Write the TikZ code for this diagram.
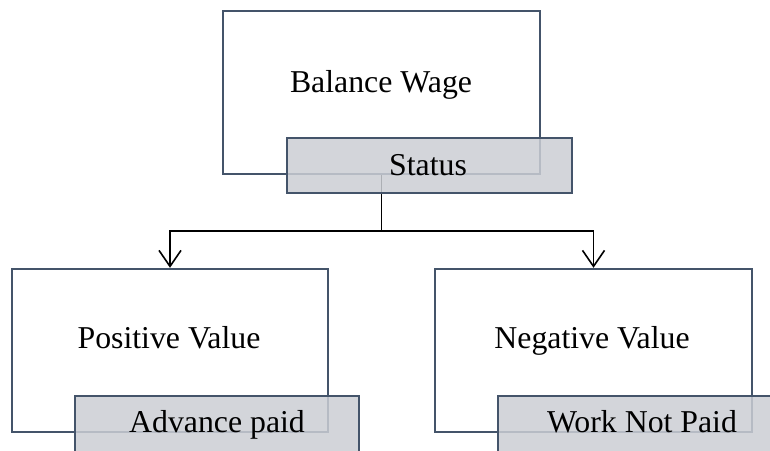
\documentclass[tikz,border=0pt]{standalone}
\usepackage{fontspec}
\setmainfont{Liberation Serif}
\usetikzlibrary{arrows.meta}
\definecolor{boxline}{HTML}{44546A}
\definecolor{tabfill}{HTML}{CBCED4}
\begin{document}
\begin{tikzpicture}[x=1pt,y=-1pt,
  mainbox/.style={draw=boxline, line width=2.4pt, rectangle, inner sep=0pt},
  tabbox/.style={draw=boxline, line width=2.4pt, fill=tabfill, fill opacity=0.85, text opacity=1, rectangle, inner sep=0pt},
  lbl/.style={font=\fontsize{31.8}{38}\selectfont, text=black, inner sep=0pt, anchor=base},
  link/.style={draw=black, line width=1.6pt},
  arr/.style={link, -{Straight Barb[length=16pt,width=22pt,line width=1.6pt]}}]
\clip (0,0) rectangle (770,450);
\useasboundingbox (0,0) rectangle (770,450);
% parent card
\node[mainbox, minimum width=317pt, minimum height=163pt] (top) at (381.5,92.5) {};
\node[lbl] (toptext) at (381,92) {Balance Wage};
% child cards
\node[mainbox, minimum width=316pt, minimum height=163pt] (left) at (170,350.5) {};
\node[lbl] (lefttext) at (169,348) {Positive Value};
\node[mainbox, minimum width=317pt, minimum height=163pt] (right) at (593.5,350.5) {};
\node[lbl] (righttext) at (592,348) {Negative Value};
% connectors
\coordinate (j) at (381.5,231);
\draw[link] (top.south) -- (j);
\draw[arr] (j) -| (left.north);
\draw[arr] (j) -| (right.north);
% tabs
\node[tabbox, minimum width=285pt, minimum height=55pt] (status) at (429.5,165.5) {};
\node[lbl] (statustext) at (428,175) {Status};
\node[tabbox, minimum width=284pt, minimum height=60pt] (adv) at (217,426) {};
\node[lbl] (advtext) at (217,432) {Advance paid};
\node[tabbox, minimum width=285pt, minimum height=60pt] (wnp) at (640.5,426) {};
\node[lbl] (wnptext) at (642,432) {Work Not Paid};
\end{tikzpicture}
\end{document}
